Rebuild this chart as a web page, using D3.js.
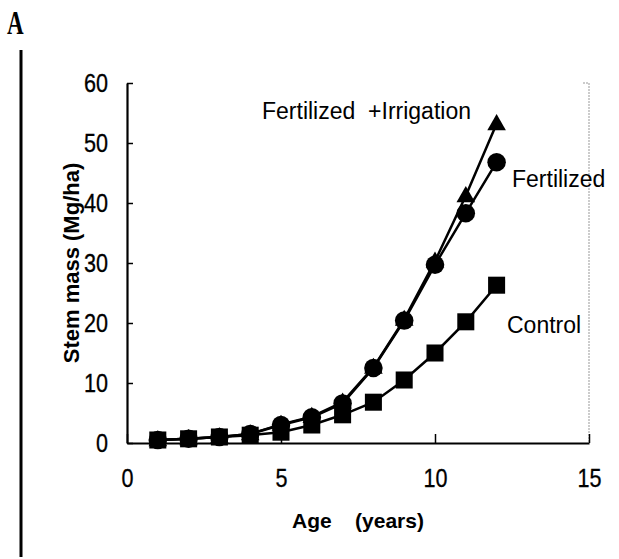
<!DOCTYPE html>
<html>
<head>
<meta charset="utf-8">
<script src="https://cdn.jsdelivr.net/npm/d3@7"></script>
<style>
  body { margin: 0; background: #fff; }
  svg { display: block; }
  text { font-family: "Liberation Sans", Arial, sans-serif; fill: #000; }
</style>
</head>
<body>
<svg id="chart"></svg>
<script>
// ages (years)
const ages = [1, 2, 3, 4, 5, 6, 7, 8, 9, 10, 11, 12];

// stem mass (Mg/ha)
const control = [0.5, 0.7, 1.0, 1.3, 1.8, 3.0, 4.7, 6.8, 10.5, 15.0, 20.2, 26.3];
const fertilized = [0.5, 0.7, 1.0, 1.5, 3.0, 4.3, 6.6, 12.5, 20.4, 29.7, 38.3, 46.8];
const fertIrrigated = [0.5, 0.7, 1.0, 1.5, 3.1, 4.4, 6.8, 12.6, 20.6, 30.3, 41.2, 53.2];

const xTicks = [0, 5, 10, 15];
const yTicks = [0, 10, 20, 30, 40, 50, 60];

const width = 619;
const height = 559;

const svg = d3.select('#chart')
    .attr('width', width)
    .attr('height', height);

const x = d3.scaleLinear().domain([0, 15]).range([127, 589]);
const y = d3.scaleLinear().domain([0, 60]).range([443, 83]);

// panel letter and the bar down the left side
svg.append('text')
    .attr('transform', 'translate(7,34) scale(0.72,1.05)')
    .style('font-family', '"Liberation Serif", "Times New Roman", serif')
    .style('font-weight', 'bold')
    .style('font-size', '32px')
    .text('A');

svg.append('line')
    .attr('x1', 21).attr('x2', 21)
    .attr('y1', 50).attr('y2', 557)
    .attr('stroke', '#000')
    .attr('stroke-width', 3);

// faint right border of the plot
svg.append('path')
    .attr('d', `M${x(15) - 6},${y(60)}H${x(15)}V${y(0)}`)
    .attr('fill', 'none')
    .attr('stroke', '#999')
    .attr('stroke-width', 1)
    .attr('stroke-dasharray', '2,1');

// axes, ticks pointing inward
const xAxis = svg.append('g')
    .attr('transform', `translate(0,${y(0)})`)
    .call(d3.axisBottom(x).tickValues(xTicks).tickSizeInner(-9).tickSizeOuter(0).tickPadding(23));

const yAxis = svg.append('g')
    .attr('transform', `translate(${x(0)},0)`)
    .call(d3.axisLeft(y).tickValues(yTicks).tickSizeInner(-6).tickSizeOuter(0).tickPadding(21));

[xAxis, yAxis].forEach(g => {
    g.select('.domain').attr('stroke-width', 2.2);
    g.selectAll('.tick line').attr('stroke-width', 1.5);
    g.selectAll('.tick text')
        .style('font-size', '24px')
        .style('font-family', '"Liberation Sans", Arial, sans-serif')
        .attr('fill', '#000')
        .attr('stroke', '#000')
        .attr('stroke-width', 0.3)
        .attr('transform', 'scale(0.9,1.1)');
});

// axis titles
svg.append('text')
    .attr('x', 358).attr('y', 528)
    .attr('text-anchor', 'middle')
    .style('font-weight', 'bold')
    .style('font-size', '21px')
    .style('white-space', 'pre')
    .text('Age    (years)');

svg.append('text')
    .attr('transform', 'translate(79,263) rotate(-90)')
    .attr('text-anchor', 'middle')
    .style('font-weight', 'bold')
    .style('font-size', '22px')
    .text('Stem mass (Mg/ha)');

// series
const series = [
    { name: 'control', values: control, shape: d3.symbolSquare, size: 290 },
    { name: 'fertilized', values: fertilized, shape: d3.symbolCircle, size: 270 },
    { name: 'fertIrrigated', values: fertIrrigated, shape: d3.symbolTriangle, size: 150 }
];

const line = d3.line()
    .x((d, i) => x(ages[i]))
    .y(d => y(d));

series.forEach(s => {
    svg.append('path')
        .datum(s.values)
        .attr('fill', 'none')
        .attr('stroke', '#000')
        .attr('stroke-width', 2.5)
        .attr('d', line);
});

series.forEach(s => {
    const sym = d3.symbol().type(s.shape).size(s.size);
    svg.append('g')
        .selectAll('path')
        .data(s.values)
        .join('path')
        .attr('transform', (d, i) => `translate(${x(ages[i])},${y(d) + (s.shape === d3.symbolTriangle ? 1 : 0)})`)
        .attr('d', sym)
        .attr('fill', '#000');
});

// series labels
const labels = [
    { text: 'Fertilized  +Irrigation', x: 262, y: 119 },
    { text: 'Fertilized', x: 512, y: 187 },
    { text: 'Control', x: 507, y: 333 }
];

svg.append('g')
    .selectAll('text')
    .data(labels)
    .join('text')
    .attr('x', d => d.x)
    .attr('y', d => d.y)
    .style('font-size', '23px')
    .style('white-space', 'pre')
    .text(d => d.text);
</script>
</body>
</html>
